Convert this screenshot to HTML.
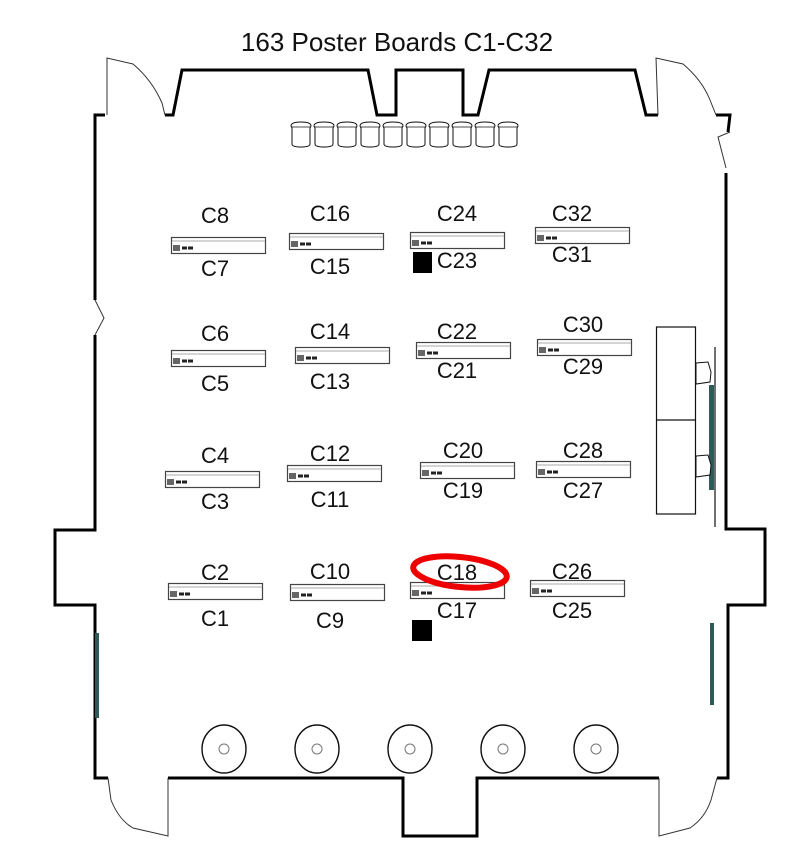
<!DOCTYPE html>
<html><head><meta charset="utf-8"><style>
html,body{margin:0;padding:0;background:#fff}
svg{display:block}
text{font-family:"Liberation Sans","DejaVu Sans",sans-serif;fill:#111}
</style></head><body>
<svg width="800" height="845" viewBox="0 0 800 845" xmlns="http://www.w3.org/2000/svg">
<defs>
<g id="b">
<rect x="0.5" y="0.5" width="94" height="16" fill="#fff" stroke="#444" stroke-width="1.2"/>
<line x1="1" y1="4" x2="94" y2="4" stroke="#aaa" stroke-width="1"/>
<rect x="2" y="8" width="7" height="6" fill="#666"/>
<rect x="11" y="9.5" width="5" height="3" fill="#222"/>
<rect x="17" y="9.5" width="5" height="3" fill="#222"/>
</g>
<g id="ch">
<path d="M1,4 Q1,0 11,0 Q21,0 21,4 L20,6 L20,22 Q20,25 11,25 Q2,25 2,22 L2,6 Z" fill="#fff" stroke="#111" stroke-width="1"/>
<line x1="1.5" y1="5" x2="20.5" y2="5" stroke="#111" stroke-width="0.8"/>
</g>
<g id="c">
<ellipse cx="0" cy="0" rx="22" ry="24" fill="none" stroke="#111" stroke-width="1.4"/>
<circle cx="0" cy="0" r="5" fill="none" stroke="#777" stroke-width="1"/>
</g>
</defs>

<text x="397" y="51" font-size="26" text-anchor="middle">163 Poster Boards C1-C32</text>

<!-- walls -->
<g fill="none" stroke="#000" stroke-width="3" stroke-linejoin="miter">
<polyline points="105,115 95,115 95,300"/>
<polyline points="95,335 95,530 55,530 55,605 95,605 95,778 108,778"/>
<polyline points="168,778 403,778 403,836 477,836 477,778 659,778"/>
<polyline points="717,778 728,778 728,605 765,605 765,529 726,529 726,173"/>
<polyline points="728,132 730,115 716,115"/>
<polyline points="165,115 173,115 182,70 368,70 377,115 396,115 396,70 463,70 463,115 478,115 489,70 635,70 646,115 658,115"/>
</g>
<!-- doors thin -->
<g fill="none" stroke="#333" stroke-width="1">
<path d="M107,115 L107,58 L133,64 Q152,80 162,103 L165,115"/>
<path d="M658,115 L656,58 L683,64 Q702,80 710,100 L716,115"/>
<path d="M730,132 L718,137 L726,168"/>
<path d="M95,300 L104,318 L95,335"/>
<path d="M108,778 L111,800 Q119,820 133,828 L168,836 L168,778"/>
<path d="M659,778 L659,836 L690,828 Q705,818 711,800 L717,778"/>
</g>

<!-- chairs -->
<g>
<use href="#ch" x="290" y="122"/><use href="#ch" x="313" y="122"/><use href="#ch" x="336" y="122"/><use href="#ch" x="359" y="122"/><use href="#ch" x="382" y="122"/><use href="#ch" x="405" y="122"/><use href="#ch" x="428" y="122"/><use href="#ch" x="451" y="122"/><use href="#ch" x="474" y="122"/><use href="#ch" x="497" y="122"/>
</g>

<!-- right tables -->
<rect x="656.5" y="327" width="39" height="187" fill="#fff" stroke="#111" stroke-width="1.2"/>
<line x1="656" y1="420" x2="696" y2="420" stroke="#111" stroke-width="1.2"/>
<rect x="709" y="385" width="5" height="105" fill="#2e5a58"/>
<line x1="715" y1="347" x2="715" y2="527" stroke="#111" stroke-width="1.2"/>
<path d="M696,363 L708,362 L711,372 L710,382 L696,384 Z" fill="#fff" stroke="#111"/>
<path d="M696,456 L708,455 L711,465 L710,475 L696,477 Z" fill="#fff" stroke="#111"/>
<rect x="95" y="633" width="4" height="85" fill="#2e5a58"/>
<rect x="710" y="623" width="4" height="82" fill="#2e5a58"/>

<!-- boards -->
<use href="#b" x="171" y="237"/><use href="#b" x="289" y="233"/><use href="#b" x="410" y="232"/><use href="#b" x="535" y="227"/>
<use href="#b" x="171" y="350"/><use href="#b" x="295" y="347"/><use href="#b" x="416" y="342"/><use href="#b" x="537" y="339"/>
<use href="#b" x="165" y="471"/><use href="#b" x="287" y="465"/><use href="#b" x="420" y="462"/><use href="#b" x="536" y="461"/>
<use href="#b" x="168" y="583"/><use href="#b" x="290" y="584"/><use href="#b" x="410" y="582"/><use href="#b" x="530" y="580"/>
<rect x="413" y="252" width="19" height="21" fill="#000"/>
<rect x="412" y="620" width="20" height="21" fill="#000"/>

<!-- labels -->
<g font-size="22" text-anchor="middle">
<text x="215" y="223">C8</text><text x="215" y="276">C7</text>
<text x="330" y="221">C16</text><text x="330" y="274">C15</text>
<text x="457" y="221">C24</text><text x="457" y="268">C23</text>
<text x="572" y="221">C32</text><text x="572" y="262">C31</text>
<text x="215" y="341">C6</text><text x="215" y="391">C5</text>
<text x="330" y="339">C14</text><text x="330" y="389">C13</text>
<text x="457" y="339">C22</text><text x="457" y="378">C21</text>
<text x="583" y="332">C30</text><text x="583" y="374">C29</text>
<text x="215" y="463">C4</text><text x="215" y="509">C3</text>
<text x="330" y="461">C12</text><text x="330" y="507">C11</text>
<text x="463" y="458">C20</text><text x="463" y="498">C19</text>
<text x="583" y="458">C28</text><text x="583" y="498">C27</text>
<text x="215" y="580">C2</text><text x="215" y="626">C1</text>
<text x="330" y="579">C10</text><text x="330" y="628">C9</text>
<text x="457" y="580">C18</text><text x="457" y="618">C17</text>
<text x="572" y="579">C26</text><text x="572" y="618">C25</text>
</g>

<!-- circles -->
<use href="#c" x="224" y="749"/><use href="#c" x="317" y="749"/><use href="#c" x="410" y="749"/><use href="#c" x="503" y="749"/><use href="#c" x="596" y="749"/>

<!-- red highlight -->
<ellipse cx="460" cy="572" rx="47" ry="15" fill="none" stroke="#e00" stroke-width="6" transform="rotate(6 460 572)"/>
</svg>
</body></html>
